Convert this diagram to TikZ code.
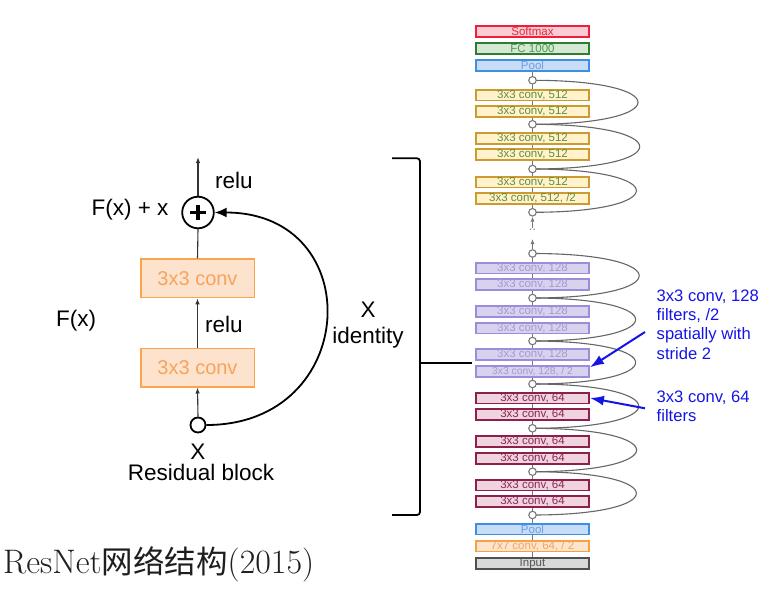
\documentclass[tikz,border=0pt]{standalone}
\usepackage{fontspec}
\newfontfamily\hel{Liberation Sans}
\newfontfamily\cjk{Noto Sans CJK SC}
\usetikzlibrary{arrows.meta,backgrounds,calc}
\definecolor{smxB}{RGB}{240,30,60}\definecolor{smxF}{RGB}{249,203,210}\definecolor{smxT}{RGB}{232,40,60}
\definecolor{fcB}{RGB}{47,125,50}\definecolor{fcF}{RGB}{213,232,212}\definecolor{fcT}{RGB}{74,154,74}
\definecolor{plB}{RGB}{62,142,230}\definecolor{plF}{RGB}{199,220,245}\definecolor{plT}{RGB}{108,160,232}
\definecolor{c5B}{RGB}{204,154,46}\definecolor{c5F}{RGB}{255,242,204}\definecolor{c5T}{RGB}{95,143,58}
\definecolor{c1B}{RGB}{155,141,217}\definecolor{c1F}{RGB}{217,210,238}\definecolor{c1T}{RGB}{164,154,207}
\definecolor{c6B}{RGB}{142,30,76}\definecolor{c6F}{RGB}{239,211,222}\definecolor{c6T}{RGB}{138,39,82}
\definecolor{c7B}{RGB}{246,162,68}\definecolor{c7F}{RGB}{253,228,207}\definecolor{c7T}{RGB}{246,164,91}
\definecolor{inB}{RGB}{80,80,80}\definecolor{inF}{RGB}{217,217,217}\definecolor{inT}{RGB}{85,85,85}
\definecolor{jointc}{RGB}{119,119,119}\definecolor{skipc}{RGB}{102,102,102}
\definecolor{annblue}{RGB}{20,20,230}
\definecolor{resB}{RGB}{249,165,75}\definecolor{resF}{RGB}{253,227,206}\definecolor{resT}{RGB}{247,163,92}
\definecolor{captxt}{RGB}{30,30,30}
\begin{document}
\begin{tikzpicture}[x=1pt,y=-1pt,
  blk/.style={draw, line width=1.8pt, minimum width=113pt, minimum height=10.8pt, inner sep=0pt,
    font=\hel\fontsize{11.5}{12}\selectfont},
  smx/.style={blk, draw=smxB, fill=smxF, text=smxT},
  fcs/.style={blk, draw=fcB, fill=fcF, text=fcT},
  pls/.style={blk, draw=plB, fill=plF, text=plT},
  cfive/.style={blk, draw=c5B, fill=c5F, text=c5T},
  cone/.style={blk, draw=c1B, fill=c1F, text=c1T},
  csix/.style={blk, draw=c6B, fill=c6F, text=c6T},
  cseven/.style={blk, draw=c7B, fill=c7F, text=c7T},
  inp/.style={blk, draw=inB, fill=inF, text=inT},
  jn/.style={circle, draw=jointc, fill=white, line width=1.1pt, minimum size=7.5pt, inner sep=0pt},
  skipline/.style={draw=skipc, line width=1.1pt},
  gline/.style={draw=jointc, line width=1pt},
  lab/.style={font=\hel\fontsize{22.5}{26.6}\selectfont},
  resbox/.style={draw=resB, fill=resF, text=resT, line width=1.5pt, minimum width=113.5pt,
    minimum height=38.5pt, inner sep=0pt, font=\hel\fontsize{20}{24}\selectfont},
  flow/.style={draw=black!80, line width=1.1pt},
  ann/.style={font=\hel\fontsize{16.6}{19.3}\selectfont, text=annblue, align=left, inner sep=0pt},
  annarrow/.style={draw=annblue, line width=2pt, -{Latex[length=14pt,width=10pt]}}
]
\useasboundingbox (0,0) rectangle (765,594);

% ---------------- right stack ----------------
\node[smx] (softmax) at (532.5,31.5) {Softmax};
\node[fcs] (fc) at (532.5,48.7) {FC 1000};
\node[pls] (pool1) at (532.5,65.7) {Pool};
\node[jn] (j1) at (532.5,80.3) {};
\node[cfive] (a1) at (532.5,95) {3x3 conv, 512};
\node[cfive] (a2) at (532.5,111.7) {3x3 conv, 512};
\node[jn] (j2) at (532.5,124.3) {};
\node[cfive] (a3) at (532.5,138.3) {3x3 conv, 512};
\node[cfive] (a4) at (532.5,154.7) {3x3 conv, 512};
\node[jn] (j3) at (532.5,169) {};
\node[cfive] (a5) at (532.5,182) {3x3 conv, 512};
\node[cfive] (a6) at (532.5,198.3) {3x3 conv, 512, /2};
\node[jn] (j4) at (532.5,212.3) {};
\coordinate (dhi) at (532.5,228);
\node[font=\hel\fontsize{12}{12}\selectfont, text=jointc, inner sep=0pt] (dd) at (532.5,230) {..};
\coordinate (dlo) at (532.5,239);
\node[jn] (j5) at (532.5,253.5) {};
\node[cone] (b1) at (532.5,268) {3x3 conv, 128};
\node[cone] (b2) at (532.5,284.3) {3x3 conv, 128};
\node[jn] (j6) at (532.5,298) {};
\node[cone] (b3) at (532.5,311.3) {3x3 conv, 128};
\node[cone] (b4) at (532.5,328) {3x3 conv, 128};
\node[jn] (j7) at (532.5,341) {};
\node[cone] (b5) at (532.5,354.7) {3x3 conv, 128};
\node[cone, font=\hel\fontsize{10.3}{11}\selectfont] (b6) at (532.5,371.3) {3x3 conv, 128, / 2};
\node[jn] (j8) at (532.5,384) {};
\node[csix] (c1) at (532.5,398) {3x3 conv, 64};
\node[csix] (c2) at (532.5,414.7) {3x3 conv, 64};
\node[jn] (j9) at (532.5,428.3) {};
\node[csix] (c3) at (532.5,441.7) {3x3 conv, 64};
\node[csix] (c4) at (532.5,458.7) {3x3 conv, 64};
\node[jn] (j10) at (532.5,471.7) {};
\node[csix] (c5) at (532.5,485) {3x3 conv, 64};
\node[csix] (c6) at (532.5,501.7) {3x3 conv, 64};
\node[jn] (j11) at (532.5,515) {};
\node[pls] (pool2) at (532.5,529) {Pool};
\node[cseven] (conv7) at (532.5,546) {7x7 conv, 64, / 2};
\node[inp] (input) at (532.5,563.3) {Input};

\begin{pgfonlayer}{background}
  \draw[gline] (pool1.center) -- (j4.center);
  \draw[gline] (j5.center) -- (input.center);
  \foreach \p/\q in {j1/j2,j2/j3,j3/j4,j5/j6,j6/j7,j7/j8,j8/j9,j9/j10,j10/j11}
    \draw[skipline] (\p.center) to[out=0,in=0,looseness=8.2] (\q.center);
\end{pgfonlayer}
\draw[gline, -{Latex[length=5pt,width=4pt]}] (j5.north) -- (dlo);
\draw[gline, -{Latex[length=5pt,width=4pt]}] (dhi) -- (j4.south);

% ---------------- annotations ----------------
\node[ann, anchor=north west] (n128) at (656.5,289.5) {3x3 conv, 128\\filters, /2\\spatially with\\stride 2};
\node[ann, anchor=north west] (n64) at (656.5,390.5) {3x3 conv, 64\\filters};
\coordinate (s1) at (645,332);
\coordinate (s2) at (645,408.3);
\draw[annarrow] (s1) -- ($(b6.east)+(0,-4)$);
\draw[annarrow] (s2) -- (c1.east);

% ---------------- bracket ----------------
\coordinate (bt) at (392,158.3);
\coordinate (bb) at (392,515);
\coordinate (bm) at (420,363.3);
\coordinate (bmr) at (472,363.3);
\draw[line width=1.8pt, rounded corners=3pt] (bt) -- (420,158.3) -- (420,515) -- (bb);
\draw[line width=1.8pt] (bm) -- (bmr);
\node[lab, align=center] (xid) at (368,325) {X\\identity};

% ---------------- residual block ----------------
\node[circle, draw, line width=1.8pt, minimum size=31.6pt, inner sep=0pt] (plus) at (198,212.5) {};
\draw[line width=3.2pt] ($(plus.center)+(-8,0)$) -- ($(plus.center)+(8,0)$);
\draw[line width=3.2pt] ($(plus.center)+(0,-7.5)$) -- ($(plus.center)+(0,7.5)$);
\node[resbox] (conv2) at (197.5,278.3) {3x3 conv};
\node[resbox] (conv1) at (197.5,367.5) {3x3 conv};
\node[circle, draw, line width=1.8pt, minimum size=15pt, inner sep=0pt, fill=white] (xin) at (198,425) {};
\coordinate (ptop) at (198,157);
\draw[flow, -{Latex[length=6pt,width=4.5pt]}] (plus.north) -- (ptop);
\draw[flow] (conv2.north) -- (plus.south);
\draw[flow, -{Latex[length=6pt,width=4.5pt]}] (conv1.north) -- (conv2.south);
\draw[flow, -{Latex[length=6pt,width=4.5pt]}] (xin.north) -- (conv1.south);
\draw[line width=1.8pt, -{Latex[length=12pt,width=10pt]}] (xin.east) to[out=0,in=0,looseness=1.85] (plus.east);

\node[lab] (relu1) at (234,180) {relu};
\node[lab, anchor=east] (fxx) at (172,210) {F(x) + x};
\node[lab] (relu2) at (224,324) {relu};
\node[lab] (fx) at (76,321) {F(x)};
\node[lab] (xl) at (198,452) {X};
\node[lab] (rb) at (201,472) {Residual block};

% ---------------- caption ----------------
\node[font=\fontsize{34}{40}\selectfont, text=captxt, anchor=west, inner sep=0pt] (cap) at (3,564) {ResNet{\cjk\fontsize{31.5}{40}\selectfont 网络结构}(2015)};
\end{tikzpicture}
\end{document}
